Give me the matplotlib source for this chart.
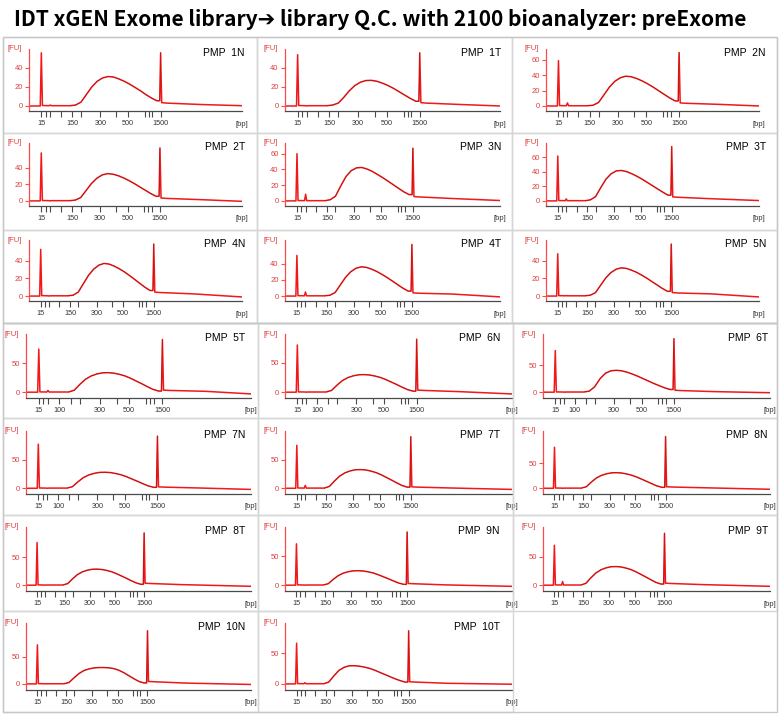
import matplotlib
matplotlib.use("Agg")
import matplotlib.pyplot as plt
from matplotlib.patches import Rectangle

# ---- data ----
title = "IDT xGEN Exome library\u2794 library Q.C. with 2100 bioanalyzer: preExome"

names = ["1N", "1T", "2N", "2T", "3N", "3T", "4N", "4T", "5N",
         "5T", "6N", "6T", "7N", "7T", "8N", "8T", "9N", "9T", "10N", "10T"]

# top of the FU axis for each panel
y_top = [60, 60, 73.6, 70, 73.6, 80, 63.6, 69, 63.6,
         100, 99.4, 107.6, 100, 100, 114, 103.6, 100.6, 102, 111.7, 99.5]
# lower (15 bp) and upper (1500 bp) marker heights [FU]
lower_marker = [56, 54, 58.6, 58, 60, 62, 53, 50, 48,
                74, 80.6, 77, 77, 75, 81.6, 76, 71.5, 70, 71.6, 66.5]
upper_marker = [56, 56, 69, 64, 67, 75, 59, 63.5, 59,
                90.6, 90.6, 99, 91, 90, 103, 93, 92, 91, 97.5, 86.8]
# small primer/adapter bump near 50 bp
bump = [1, 0, 4, 0, 8.5, 2.8, 0, 5, 0.5,
        3, 0, 0, 0, 5, 0, 0, 0, 6.4, 0, 2]

# library smear, sampled along the migration axis
smear_pos = [19, 21.5, 24, 26.5, 29, 31.5, 34, 36.5, 39, 41.5, 44, 46.5, 49, 51.5, 54, 56.5, 59]
smear = [
    [0.3, 1, 4, 12, 20, 26, 29.5, 31, 30.5, 28.5, 26, 23, 19.5, 16, 12, 8.5, 5.5],
    [0.3, 1, 3, 9, 16, 21.5, 25, 26.8, 27, 26, 24, 21.5, 18.5, 15, 11.5, 8, 5],
    [0.3, 1, 4.5, 14.5, 24.5, 32, 36.5, 38.5, 37.7, 35.4, 32.3, 28.5, 24.3, 19.6, 15, 10.4, 6.5],
    [0.3, 1, 4, 12.5, 21, 27.4, 31.4, 33, 32.3, 30.4, 27.7, 24.4, 20.8, 16.8, 12.9, 8.9, 5.6],
    [0.3, 1.5, 6, 19, 31, 38.5, 42, 42.5, 40.5, 37.5, 33.5, 29.5, 25, 20.5, 16, 11.5, 8],
    [0.3, 1.5, 6, 18.5, 30, 37.5, 41.5, 42, 40.5, 37.5, 34, 30, 25.5, 21, 16.5, 12, 8],
    [0.3, 1, 4.5, 14, 23.5, 30.5, 35, 37, 36.3, 34, 31, 27.4, 23.3, 18.9, 14.4, 10, 6.3],
    [0.3, 1, 4.3, 13.7, 23, 29.9, 34.2, 36, 35.3, 33.1, 30.2, 26.6, 22.7, 18.4, 14, 9.7, 6.1],
    [0.3, 1, 3.8, 12.2, 20.5, 26.6, 30.4, 32, 31.4, 29.4, 26.9, 23.7, 20.2, 16.3, 12.5, 8.6, 5.4],
    [0.3, 3.4, 13.4, 22.1, 27.8, 31.2, 33.2, 33.5, 32.8, 30.8, 28.1, 24.1, 19.4, 14.7, 9.7, 5, 2],
    [0.3, 3, 12, 19.8, 24.9, 27.9, 29.7, 30, 29.4, 27.6, 25.2, 21.6, 17.4, 13.2, 8.7, 4.5, 1.8],
    [0.3, 2, 10, 25, 35, 39.5, 40.5, 39.5, 37, 33.5, 29.5, 25, 20.5, 16, 12, 8, 5],
    [0.3, 2.8, 11.2, 18.5, 23.2, 26, 27.7, 28, 27.4, 25.8, 23.5, 20.2, 16.2, 12.3, 8.1, 4.2, 1.7],
    [0.3, 3.3, 13, 21.5, 27, 30.3, 32.3, 32.6, 32, 30, 27.4, 23.5, 18.9, 14.3, 9.5, 4.9, 2],
    [0.3, 3.1, 12.4, 20.5, 25.7, 28.8, 30.7, 31, 30.4, 28.5, 26, 22.3, 18, 13.6, 9, 4.7, 1.9],
    [0.3, 2.9, 11.4, 18.9, 23.7, 26.6, 28.3, 28.6, 28, 26.3, 24, 20.6, 16.6, 12.6, 8.3, 4.3, 1.7],
    [0.3, 2.5, 10, 16.5, 20.8, 23.3, 24.8, 25, 24.5, 23, 21, 18, 14.5, 11, 7.3, 3.8, 1.5],
    [0.3, 3.3, 13, 21.5, 27, 30.3, 32.3, 32.6, 32, 30, 27.4, 23.5, 18.9, 14.3, 9.5, 4.9, 2],
    [0.3, 2.5, 11, 19, 24.5, 27.5, 29.3, 30, 30, 29.5, 28, 25, 20.5, 15, 9.5, 4.5, 1.8],
    [0.3, 3, 13, 22, 27, 29.5, 29.7, 29, 27.5, 25.5, 22.5, 19, 15.5, 12, 8.5, 5.5, 3],
]
# baseline after the upper marker: at 64, 80 and the end of the run
tail = [
    [3, 1.5, 0.3], [3, 1.5, 0], [3.5, 2, 0], [3, 1.5, -0.5], [5, 3, 0.5],
    [5, 3, 0.5], [4, 2.5, -1], [3.5, 2.5, -1], [3.5, 2.5, -1],
    [3, 1.5, -3], [3, 1, -3], [3, 1, -1], [2, 0.5, -2], [2, 0.5, -2],
    [2.5, 1, -2], [3, 1, -2], [2.5, 0.5, -2], [3, 1, -2], [4, 1.5, -1], [3, 1, -0.5],
]
# end of the run on the migration axis (1500 bp marker sits at 60.8)
x_end = [98.4, 97, 97.3, 98.9, 102.2, 103, 103.8, 103, 103.4,
         100.3, 104.8, 105.4, 104.1, 109.7, 112.6, 115.8, 113, 113.6, 112.6, 111.6]

# DNA 1000 ladder and where each size migrates
ladder_bp = [15, 25, 50, 100, 150, 200, 300, 400, 500, 700, 850, 1000, 1500]
ladder_pos = [5.7, 7.7, 9.8, 14.8, 20.0, 24.0, 33.0, 40.4, 45.8, 53.5, 55.3, 57.0, 60.8]
mid_label = [150] * 9 + [100] * 4 + [150] * 7
y_ticks_top = [[0, 20, 40], [0, 20, 40], [0, 20, 40, 60], [0, 20, 40], [0, 20, 40, 60],
               [0, 20, 40, 60], [0, 20, 40], [0, 20, 40], [0, 20, 40]]
y_ticks_bottom = [0, 50]

# ---- layout (pixels of the 781 x 717 image) ----
W, H = 781, 717
top_cols = [(29, 242), (285, 500), (546, 759)]
top_rows = [(49, 111), (143, 206), (240, 301)]
bot_cols = [(26, 251), (285, 512), (543, 770)]
bot_rows = [(334, 398), (431, 494), (527, 591), (623, 690)]
top_name_x = [245, 501, 766]
bot_name_x = [245, 500, 768]
top_cell_x = [(3, 257), (257, 512), (512, 777)]
top_cell_y = [(37, 133), (133, 230), (230, 323)]
bot_cell_x = [(3, 258), (258, 513), (513, 777)]
bot_cell_y = [(323, 418), (418, 515), (515, 611), (611, 712)]

RED = "#f01818"
fig = plt.figure(figsize=(W / 100, H / 100), dpi=100)
fig.patch.set_facecolor("white")

fig.text(380 / W, 1 - 20 / H, title, ha="center", va="center", fontsize=15.1,
         fontweight="bold", family=["Noto Sans CJK KR", "DejaVu Sans"])


def frame(x0, x1, y0, y1, color="#d6d6d6"):
    fig.patches.append(Rectangle((x0 / W, 1 - y1 / H), (x1 - x0) / W, (y1 - y0) / H,
                                 transform=fig.transFigure, fill=False, ec=color, lw=1))


for i in range(len(names)):
    if i < 9:
        r, c = divmod(i, 3)
        (l, rr), (t, b) = top_cols[c], top_rows[r]
        frame(*top_cell_x[c], *top_cell_y[r])
        yt = y_ticks_top[i]
        gap = 0.088
        name_x = top_name_x[c]
    else:
        r, c = divmod(i - 9, 3)
        (l, rr), (t, b) = bot_cols[c], bot_rows[r]
        frame(*bot_cell_x[c], *bot_cell_y[r])
        yt = y_ticks_bottom
        gap = 0.1
        name_x = bot_name_x[c]

    ax = fig.add_axes([l / W, 1 - b / H, (rr - l) / W, (b - t) / H])

    lm, um = ladder_pos[0], ladder_pos[-1]
    xs = [0, lm - 0.5, lm, lm + 0.5, 9.3, 9.8, 10.3] + smear_pos + [um - 0.4, um, um + 0.5, 64, 80, x_end[i]]
    ys = ([0, 0, lower_marker[i], 0.5, 0.3, bump[i], 0.3] + smear[i]
          + [smear[i][-1], upper_marker[i], tail[i][0] + 0.5] + tail[i])
    ax.plot(xs, ys, color=RED, lw=1.1, solid_joinstyle="round")
    ax.plot(xs[7:-4], ys[7:-4], color="#7a1010", lw=0.4, alpha=0.6)

    ax.set_xlim(0, x_end[i])
    ax.set_ylim(-y_top[i] * gap, y_top[i])

    for s in ["top", "right"]:
        ax.spines[s].set_visible(False)
    ax.spines["left"].set_color("#ff4a4a")
    ax.spines["bottom"].set_color("#4a4a4a")
    ax.spines["left"].set_linewidth(0.9)
    ax.spines["bottom"].set_linewidth(0.9)

    shown = [15, mid_label[i], 300, 500, 1500]
    ax.set_xticks(ladder_pos)
    ax.set_xticklabels([str(v) if v in shown else "" for v in ladder_bp], family="Liberation Sans")
    ax.set_yticks(yt)
    ax.set_yticklabels([str(v) for v in yt], family="Liberation Sans")
    ax.tick_params(axis="x", direction="out", length=4, width=0.8, color="#4a4a4a",
                   labelsize=5.2, labelcolor="#333333", pad=2.5)
    ax.tick_params(axis="y", direction="out", length=3, width=0.8, color="#ff4a4a",
                   labelsize=5.5, labelcolor="#e04040", pad=1.5)

    ax.annotate("[FU]", xy=(0, 1), xycoords="axes fraction", xytext=(-7, 0),
                textcoords="offset pixels", ha="right", va="center", fontsize=5.5,
                color="#e04040", family="Liberation Sans")
    ax.annotate("[bp]", xy=(1, 0), xycoords="axes fraction", xytext=(0, -13),
                textcoords="offset pixels", ha="center", va="center", fontsize=5.5,
                color="#333333", family="Liberation Sans")
    ax.annotate("PMP  " + names[i], xy=(1, 1), xycoords="axes fraction",
                xytext=(name_x - rr, -4), textcoords="offset pixels", ha="right",
                va="center", fontsize=7.5, family="Liberation Sans")

# outer frames of the two blocks
frame(3, 777, 37, 323, "#c8c8c8")
frame(3, 777, 323, 712, "#c8c8c8")

fig.savefig("out.png", dpi=100, facecolor="white")
